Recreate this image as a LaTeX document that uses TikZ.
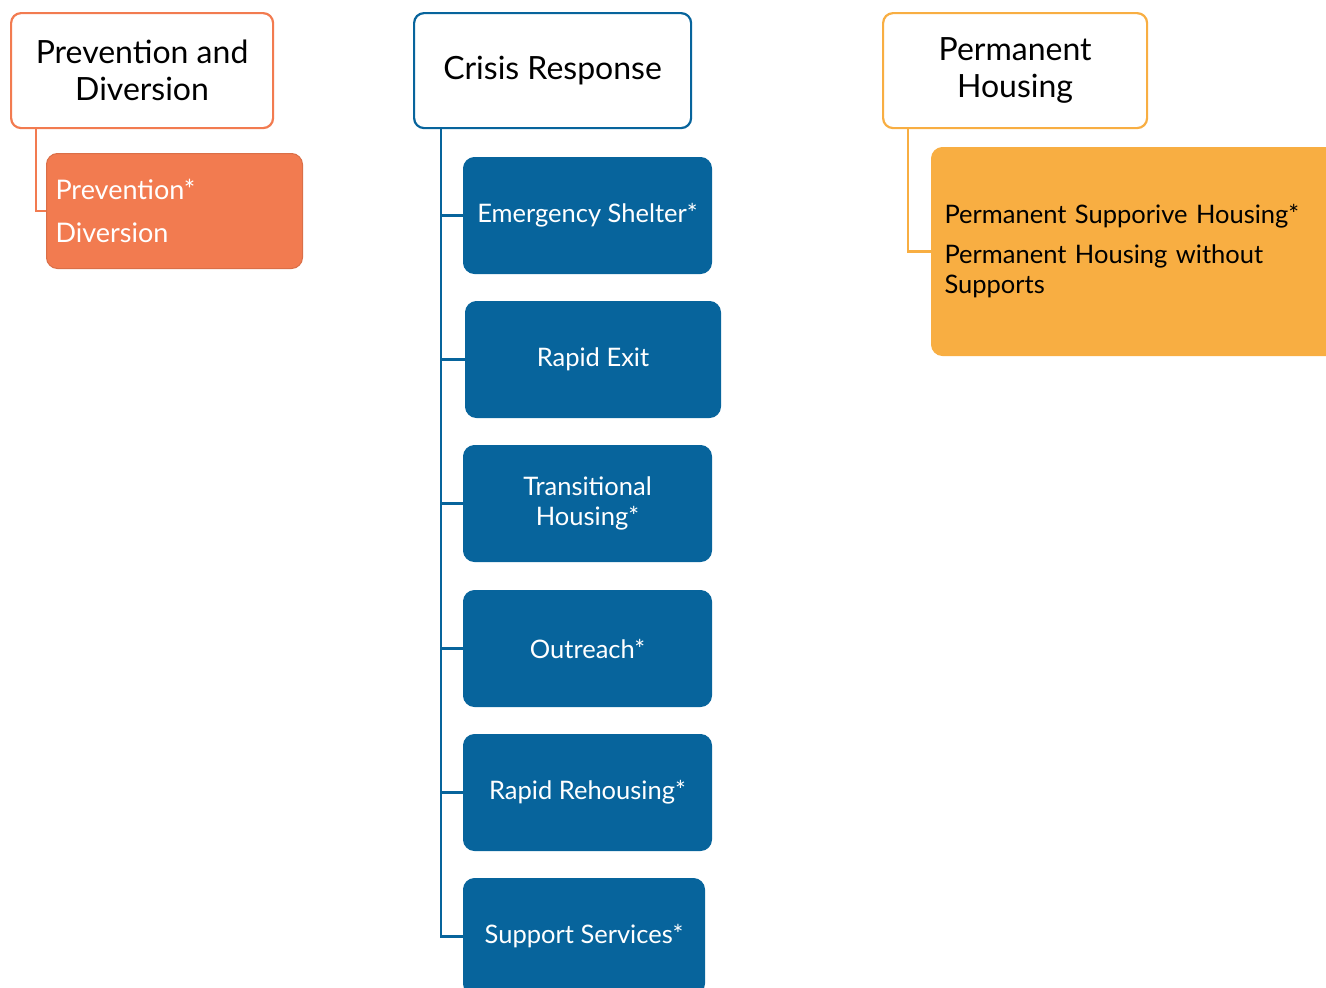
\documentclass[tikz,border=0pt]{standalone}
\usepackage{fontspec}
\setmainfont{Lato}
\definecolor{orng}{HTML}{F27B50}
\definecolor{blu}{HTML}{07649C}
\definecolor{yel}{HTML}{F8AE42}
\tikzset{
  hdr/.style={draw, line width=2.2pt, fill=white, rounded corners=10pt, anchor=north west,
    minimum height=115pt, align=center, inner sep=0pt, font=\fontsize{32}{37}\selectfont},
  kid/.style={rounded corners=11pt, anchor=north west, inner sep=0pt, font=\fontsize{25.5}{30}\selectfont},
  bluebox/.style={kid, fill=blu, draw=blu, line width=1pt, text=white, align=center, minimum height=116pt},
  conn/.style={line width=2.4pt},
}
\begin{document}
\begin{tikzpicture}[x=1pt,y=-1pt]
\useasboundingbox (0,0) rectangle (1326,988);
\clip (0,0) rectangle (1326,988);
% Prevention and Diversion
\node[hdr, draw=orng, minimum width=262pt] (pd) at (10,12) {Prevention and\\Diversion};
\node[kid, fill=orng, draw=orng!90!black, line width=1pt, text=white, minimum width=256pt, minimum height=115pt,
  text width=238pt, align=left, font=\fontsize{27}{30}\selectfont] (pv) at (46,153) {Prevention*\\[13pt]Diversion};
\draw[conn, orng] ([xshift=26pt]pd.south west) |- (pv.west);
% Crisis Response
\node[hdr, draw=blu, minimum width=277pt] (cr) at (413,12) {Crisis Response};
\node[bluebox, minimum width=248pt] (es) at (463,157) {Emergency Shelter*};
\node[bluebox, minimum width=255pt] (re) at (465,301) {Rapid Exit};
\node[bluebox, minimum width=248pt] (th) at (463,445) {Transitional\\Housing*};
\node[bluebox, minimum width=248pt] (ou) at (463,590) {Outreach*};
\node[bluebox, minimum width=248pt] (rr) at (463,734) {Rapid Rehousing*};
\node[bluebox, minimum width=241pt] (ss) at (463,878) {Support Services*};
\coordinate (trunk) at ([xshift=28pt]cr.south west);
\draw[conn, blu] (trunk) |- (ss.west);
\foreach \b in {es,re,th,ou,rr}{\draw[conn, blu] (trunk |- \b.west) -- (\b.west);}
% Permanent Housing
\node[hdr, draw=yel, minimum width=264pt] (ph) at (882,12) {Permanent\\Housing};
\node[kid, fill=yel, draw=yel, line width=1pt, text=black, minimum width=420pt, minimum height=208pt,
  text width=394pt, align=left] (psh) at (931,147)
  {Permanent Supporive Housing*\\[10pt]Permanent Housing without\\Supports};
\draw[conn, yel] ([xshift=26pt]ph.south west) |- (psh.west);
\end{tikzpicture}
\end{document}
